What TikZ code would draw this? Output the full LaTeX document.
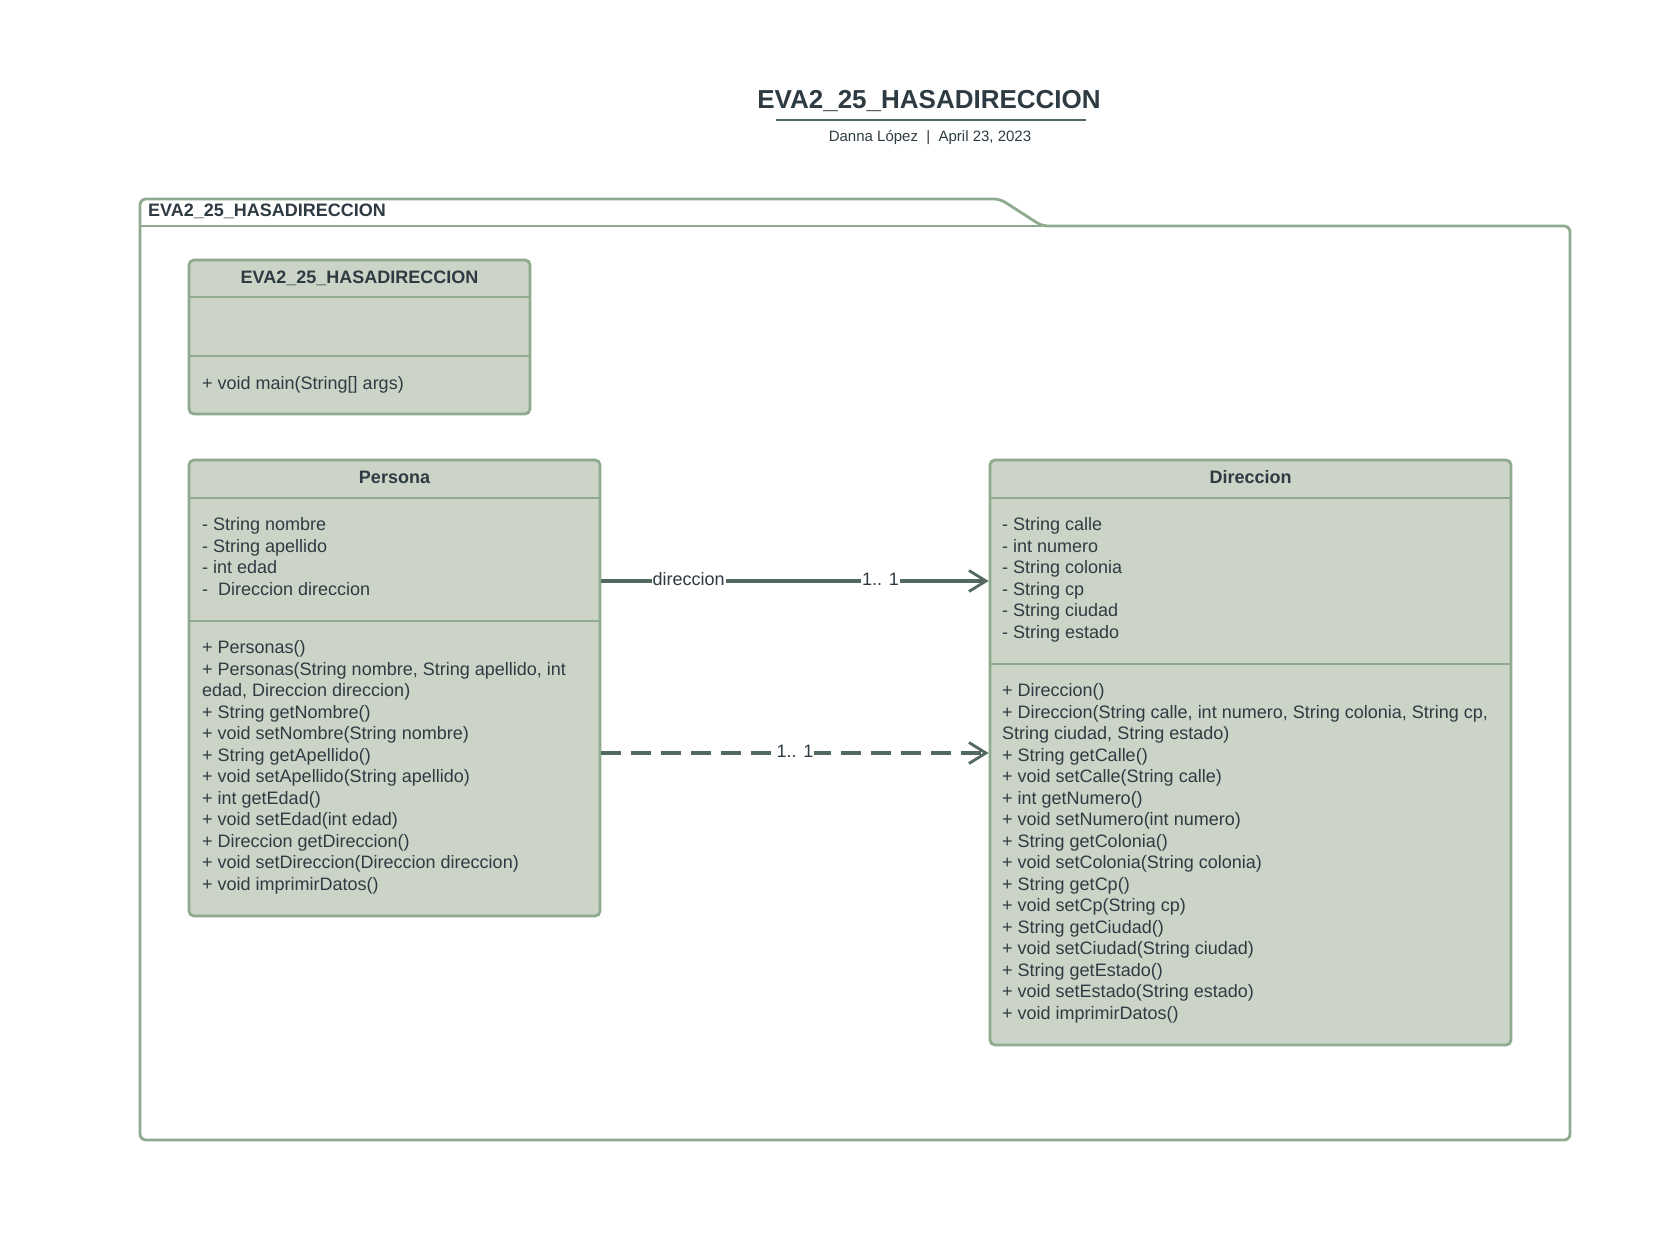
\documentclass[tikz,border=0pt]{standalone}
\usepackage{fontspec}
\setmainfont{Liberation Sans}
\usetikzlibrary{arrows.meta}
\definecolor{sage}{HTML}{8FAB8F}
\definecolor{boxfill}{HTML}{CCD4C7}
\definecolor{ink}{HTML}{2E3B42}
\definecolor{conn}{HTML}{52695F}
\newcommand{\rows}[1]{\begin{tabular}[t]{@{}l@{}}#1\end{tabular}}
\begin{document}
\begin{tikzpicture}[x=1pt,y=-1pt,
 classbox/.style={draw=sage, fill=boxfill, line width=2.8pt, rounded corners=5pt, inner sep=0pt},
 sepline/.style={draw=sage, line width=2.8pt},
 frameline/.style={draw=sage, line width=2.8pt, rounded corners=6pt},
 txt/.style={text=ink, font=\fontsize{18}{21.5}\selectfont, inner sep=0pt, anchor=base west},
 ctitle/.style={text=ink, font=\fontsize{18}{21.5}\selectfont\bfseries, inner sep=0pt, anchor=base},
 assoc/.style={draw=conn, line width=3.2pt, -{Straight Barb[length=17pt, width=21pt, line width=2.8pt]}},
 lbl/.style={fill=white, text=ink, font=\fontsize{18}{21.5}\selectfont, inner xsep=1pt, inner ysep=1pt}
]
\useasboundingbox (0,0) rectangle (1680,1256);

% title block
\node[text=ink, font=\fontsize{26}{30}\selectfont\bfseries, inner sep=0pt, anchor=base] (title) at (929,108.3) {EVA2\_25\_HASADIRECCION};
\draw[draw=conn, line width=2.5pt] (776,120) coordinate (ul1) -- (1086,120) coordinate (ul2);
\node[text=ink, font=\fontsize{15}{18}\selectfont, inner sep=0pt, anchor=base] (subtitle) at (930,141.4) {Danna López\ \ |\ \ April 23, 2023};

% package frame
\draw[frameline] (1042,226) -- (1000,199) -- (140,199) -- (140,1140) -- (1570,1140) -- (1570,226) -- cycle;
\draw[sepline] (140,226) -- (1042,226);
\node[text=ink, font=\fontsize{18}{21.5}\selectfont\bfseries, inner sep=0pt, anchor=base west] (pkglabel) at (148,216.4) {EVA2\_25\_HASADIRECCION};

% main class
\node[classbox, minimum width=341pt, minimum height=154pt] (mainc) at (359.5,337) {};
\draw[sepline] (mainc.west |- 0,297) -- (mainc.east |- 0,297);
\draw[sepline] (mainc.west |- 0,356) -- (mainc.east |- 0,356);
\node[ctitle] (mainT) at (359.5,283) {EVA2\_25\_HASADIRECCION};
\node[txt] (mainM) at (202,389.5) {+ void main(String[] args)};

% Persona
\node[classbox, minimum width=411pt, minimum height=456pt] (persona) at (394.5,688) {};
\draw[sepline] (persona.west |- 0,498) -- (persona.east |- 0,498);
\draw[sepline] (persona.west |- 0,621) -- (persona.east |- 0,621);
\node[ctitle] (personaT) at (394.5,483.4) {Persona};
\node[txt] (personaA) at (202,530.5) {\rows{- String nombre\\- String apellido\\- int edad\\-\ \ Direccion direccion}};
\node[txt] (personaM) at (202,653.5) {\rows{+ Personas()\\+ Personas(String nombre, String apellido, int\\edad, Direccion direccion)\\+ String getNombre()\\+ void setNombre(String nombre)\\+ String getApellido()\\+ void setApellido(String apellido)\\+ int getEdad()\\+ void setEdad(int edad)\\+ Direccion getDireccion()\\+ void setDireccion(Direccion direccion)\\+ void imprimirDatos()}};

% Direccion
\node[classbox, minimum width=521pt, minimum height=585pt] (direccion) at (1250.5,752.5) {};
\draw[sepline] (direccion.west |- 0,498) -- (direccion.east |- 0,498);
\draw[sepline] (direccion.west |- 0,664) -- (direccion.east |- 0,664);
\node[ctitle] (direccionT) at (1250.5,483.4) {Direccion};
\node[txt] (direccionA) at (1002,530.5) {\rows{- String calle\\- int numero\\- String colonia\\- String cp\\- String ciudad\\- String estado}};
\node[txt] (direccionM) at (1002,696.5) {\rows{+ Direccion()\\+ Direccion(String calle, int numero, String colonia, String cp,\\String ciudad, String estado)\\+ String getCalle()\\+ void setCalle(String calle)\\+ int getNumero()\\+ void setNumero(int numero)\\+ String getColonia()\\+ void setColonia(String colonia)\\+ String getCp()\\+ void setCp(String cp)\\+ String getCiudad()\\+ void setCiudad(String ciudad)\\+ String getEstado()\\+ void setEstado(String estado)\\+ void imprimirDatos()}};

% connectors
\coordinate (r1) at (0,581);
\coordinate (r2) at (0,753);
\draw[assoc] (persona.east |- r1) -- node[lbl, pos=0.225, yshift=1.5pt] (l1) {direccion} node[lbl, pos=0.721, yshift=1.5pt] (l2) {1.. 1} (direccion.west |- r1);
\draw[assoc, dash pattern=on 20pt off 10pt] (persona.east |- r2) -- node[lbl, pos=0.5, yshift=1.5pt] (l3) {1.. 1} (direccion.west |- r2);
\end{tikzpicture}
\end{document}
